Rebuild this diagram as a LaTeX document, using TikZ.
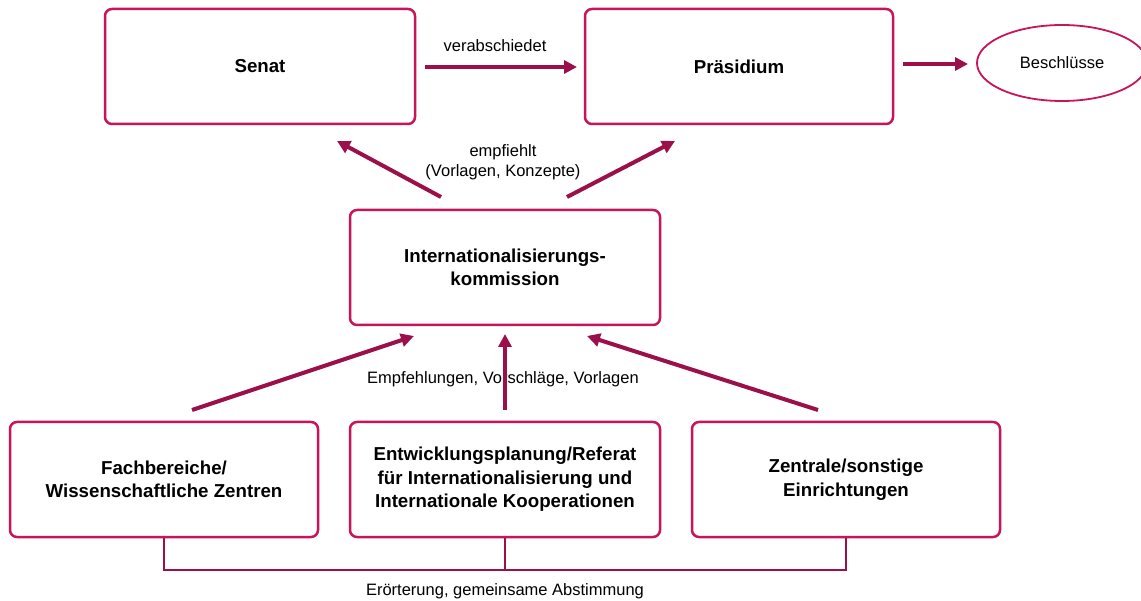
\documentclass[tikz,border=0pt]{standalone}
\usepackage{fontspec}
\setmainfont{Liberation Sans}
\usetikzlibrary{arrows.meta,shapes.geometric}
\definecolor{boxc}{RGB}{200,20,90}
\definecolor{arrc}{RGB}{155,15,75}
\tikzset{
  box/.style={draw=boxc, line width=2.5pt, rounded corners=7pt, fill=white,
    minimum width=308pt, minimum height=115pt, align=center,
    font=\fontsize{18.7pt}{23.5pt}\selectfont\bfseries},
  arr/.style={draw=arrc, line width=4pt, -{Triangle[length=13pt,width=13pt]}},
  lbl/.style={align=center, font=\fontsize{16.5pt}{20pt}\selectfont},
  brk/.style={draw=arrc, line width=2.2pt}
}
\begin{document}
\begin{tikzpicture}[x=1pt,y=-1pt]
\useasboundingbox (0,0) rectangle (1141,601);
\begin{scope}
\clip (0,0) rectangle (1141,601);
\node[draw=boxc, line width=1.8pt, ellipse, minimum width=170pt, minimum height=76pt,
  font=\fontsize{16.5pt}{20pt}\selectfont] (besch) at (1062,63) {Beschlüsse};
\end{scope}
\node[box, minimum width=310pt] (senat) at (260,66.5) {Senat};
\node[box] (praes) at (739,66.5) {Präsidium};
\node[box, minimum width=310pt] (intl) at (505,267.5) {Internationalisierungs-\\kommission};
\node[box] (fach) at (164,479.5) {Fachbereiche/\\Wissenschaftliche Zentren};
\node[box, minimum width=310pt] (entw) at (505,479.5) {Entwicklungsplanung/Referat\\für Internationalisierung und\\Internationale Kooperationen};
\node[box] (zentr) at (846,479.5) {Zentrale/sonstige\\Einrichtungen};

% top arrows
\coordinate (v1) at (425,67);
\coordinate (v2) at (577,67);
\draw[arr] (v1) -- (v2);
\node[lbl] (lverab) at (495,46) {verabschiedet};
\coordinate (b1) at (903,64);
\coordinate (b2) at (968,64);
\draw[arr] (b1) -- (b2);

% empfiehlt arrows
\coordinate (e1) at (441,197);
\coordinate (e2) at (337,141);
\coordinate (e3) at (567,197);
\coordinate (e4) at (675,141);
\draw[arr] (e1) -- (e2);
\draw[arr] (e3) -- (e4);
\node[lbl] (lempf) at (503,162) {empfiehlt\\(Vorlagen, Konzepte)};

% bottom arrows
\coordinate (f1) at (192,410);
\coordinate (f2) at (414,336);
\coordinate (m1) at (505,410);
\coordinate (m2) at (505,334);
\coordinate (z1) at (818,410);
\coordinate (z2) at (587,336);
\node[lbl] (lempfv) at (503,379) {Empfehlungen, Vorschläge, Vorlagen};
\draw[arr] (f1) -- (f2);
\draw[arr] (m1) -- (m2);
\draw[arr] (z1) -- (z2);

% bracket
\draw[brk] (fach.south) -- ++(0,32) -| (zentr.south);
\draw[brk] (entw.south) -- ++(0,32);
\node[lbl] (lerort) at (505,591) {Erörterung, gemeinsame Abstimmung};
\end{tikzpicture}
\end{document}
